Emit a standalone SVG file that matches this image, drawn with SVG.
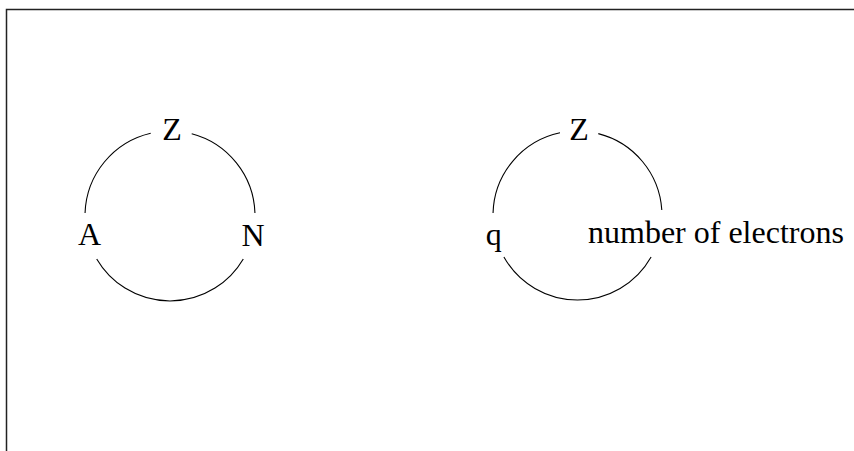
<svg xmlns="http://www.w3.org/2000/svg" width="854" height="451" viewBox="0 0 854 451">
<style>
.arc{fill:none;stroke:#000;stroke-width:1.1}
.lbl{font-family:"Liberation Serif","Times New Roman",serif;font-size:32px;fill:#000}
.frame{fill:none;stroke:#222;stroke-width:1.5}
</style>
<rect width="854" height="451" fill="#fff"/>
<path class="frame" d="M6.5,451 V9.5 H854"/>
<g id="connectors">
<path class="arc" d="M85.05,213 A85,85 0 0 1 150.7,133.2"/>
<path class="arc" d="M191.7,133.8 A85,85 0 0 1 254.95,213"/>
<path class="arc" d="M243.3,259 A85,85 0 0 1 96.7,259"/>
<path class="arc" d="M493.04,213 A84.5,84.5 0 0 1 560,132.8"/>
<path class="arc" d="M598.3,133.6 A84.5,84.5 0 0 1 661.8,210"/>
<path class="arc" d="M651.1,257 A84.5,84.5 0 0 1 503.9,257"/>
</g>
<g id="node-Z1"><text class="lbl" x="172" y="140" text-anchor="middle">Z</text></g>
<g id="node-A"><text class="lbl" x="89.5" y="245" text-anchor="middle">A</text></g>
<g id="node-N"><text class="lbl" x="253" y="246" text-anchor="middle">N</text></g>
<g id="node-Z2"><text class="lbl" x="579" y="140" text-anchor="middle">Z</text></g>
<g id="node-q"><text class="lbl" x="493.7" y="245" text-anchor="middle">q</text></g>
<g id="node-electrons"><text class="lbl" x="588" y="243">number of electrons</text></g>
</svg>
